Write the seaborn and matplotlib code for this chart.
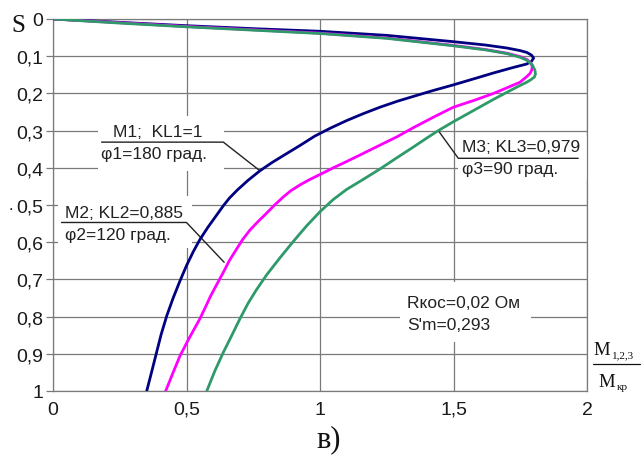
import matplotlib
matplotlib.use("Agg")
import matplotlib.pyplot as plt
import seaborn as sns
import pandas as pd
from matplotlib.patches import Rectangle
from matplotlib.lines import Line2D

# ---- data: torque ratio M/Mkr (x) vs slip S (y) ----
m1_x = [0, 0.25, 0.5, 0.75, 1.0, 1.25, 1.5, 1.62, 1.70, 1.75, 1.775, 1.792, 1.800,
        1.792, 1.774, 1.72, 1.65, 1.58, 1.5, 1.42, 1.35, 1.29, 1.225, 1.16, 1.10,
        1.04, 0.98, 0.925, 0.87, 0.82, 0.775, 0.73, 0.69, 0.66, 0.638, 0.61, 0.58,
        0.55, 0.525, 0.50, 0.475, 0.45, 0.426, 0.405, 0.388, 0.37, 0.351]
m1_s = [0, 0.009, 0.018, 0.026, 0.033, 0.044, 0.061, 0.070, 0.078, 0.085, 0.090, 0.097, 0.105,
        0.114, 0.121, 0.131, 0.145, 0.160, 0.177, 0.193, 0.208, 0.221, 0.237, 0.255, 0.273,
        0.293, 0.315, 0.340, 0.364, 0.386, 0.408, 0.434, 0.460, 0.482, 0.502, 0.530, 0.560,
        0.593, 0.626, 0.663, 0.705, 0.750, 0.798, 0.848, 0.896, 0.947, 1.0]

m2_x = [0, 0.25, 0.5, 0.75, 1.0, 1.25, 1.5, 1.62, 1.70, 1.75, 1.775, 1.788, 1.795,
        1.793, 1.787, 1.774, 1.749, 1.70, 1.65, 1.58, 1.5, 1.43, 1.35, 1.29, 1.225,
        1.16, 1.10, 1.05, 1.0, 0.96, 0.925, 0.89, 0.863, 0.83, 0.80, 0.77, 0.738,
        0.71, 0.688, 0.66, 0.638, 0.61, 0.59, 0.57, 0.55, 0.51, 0.476, 0.45, 0.422]
m2_s = [0, 0.010, 0.020, 0.029, 0.038, 0.051, 0.071, 0.082, 0.092, 0.101, 0.109, 0.117, 0.127,
        0.137, 0.146, 0.155, 0.170, 0.185, 0.200, 0.218, 0.237, 0.262, 0.292, 0.316, 0.339,
        0.362, 0.383, 0.400, 0.418, 0.432, 0.446, 0.462, 0.478, 0.500, 0.522, 0.543, 0.567,
        0.593, 0.618, 0.650, 0.681, 0.718, 0.745, 0.776, 0.806, 0.858, 0.905, 0.950, 1.0]

m3_x = [0, 0.25, 0.5, 0.75, 1.0, 1.25, 1.5, 1.62, 1.70, 1.75, 1.775, 1.795, 1.805,
        1.807, 1.803, 1.79, 1.774, 1.74, 1.70, 1.65, 1.6, 1.55, 1.5, 1.443, 1.40,
        1.35, 1.29, 1.225, 1.16, 1.10, 1.05, 1.0, 0.95, 0.90, 0.85, 0.80, 0.76,
        0.73, 0.70, 0.67, 0.638, 0.605, 0.576]
m3_s = [0, 0.011, 0.021, 0.030, 0.039, 0.052, 0.072, 0.083, 0.093, 0.103, 0.111, 0.123, 0.138,
        0.148, 0.156, 0.163, 0.170, 0.182, 0.197, 0.216, 0.236, 0.256, 0.276, 0.300, 0.320,
        0.344, 0.372, 0.403, 0.432, 0.458, 0.485, 0.518, 0.556, 0.598, 0.642, 0.688, 0.730,
        0.765, 0.806, 0.850, 0.896, 0.948, 1.0]

series_colors = {"M1": "#000080", "M2": "#FF00FF", "M3": "#2E9A6A"}

x_ticks = [0, 0.5, 1, 1.5, 2]
x_tick_labels = ["0", "0,5", "1", "1,5", "2"]
y_ticks = [0, 0.1, 0.2, 0.3, 0.4, 0.5, 0.6, 0.7, 0.8, 0.9, 1.0]
y_tick_labels = ["0", "0,1", "0,2", "0,3", "0,4", "0,5", "0,6", "0,7", "0,8", "0,9", "1"]

# ---- style ----
sns.set_style("white")
plt.rcParams["font.family"] = ["Liberation Sans", "DejaVu Sans"]

fig = plt.figure(figsize=(6.41, 4.56), dpi=100)
ax = fig.add_axes([53 / 641, 1 - 392 / 456, 534 / 641, 372 / 456])

for name, xs, ss in (("M1", m1_x, m1_s), ("M2", m2_x, m2_s), ("M3", m3_x, m3_s)):
    df = pd.DataFrame({"M": xs, "S": ss})
    sns.lineplot(data=df, x="M", y="S", sort=False, estimator=None,
                 color=series_colors[name], lw=2.0, ax=ax, zorder=3)
for ln in ax.get_lines():
    ln.set_solid_joinstyle("round")
    ln.set_solid_capstyle("round")

ax.set_xlim(0, 2)
ax.set_ylim(1, 0)
ax.set_xticks(x_ticks)
ax.set_xticklabels(x_tick_labels)
ax.set_yticks(y_ticks)
ax.set_yticklabels(y_tick_labels)
ax.set_xlabel("")
ax.set_ylabel("")
ax.set_axisbelow(True)
ax.grid(True, color="#7a7a7a", lw=0.9)
for sp in ax.spines.values():
    sp.set_color("#7a7a7a")
    sp.set_linewidth(0.9)
ax.tick_params(axis="y", length=5, width=0.9, color="#7a7a7a", pad=2,
               labelsize=14, direction="out", left=True)
ax.tick_params(axis="x", length=0, pad=7, labelsize=14)
for lab in ax.get_xticklabels() + ax.get_yticklabels():
    lab.set_color("#1a1a1a")

# ---- annotation boxes (white backgrounds hiding gridlines) ----
def white_box(x0, y0, x1, y1):
    ax.add_patch(Rectangle((x0, y0), x1 - x0, y1 - y0, facecolor="white",
                           edgecolor="none", zorder=1))

fs = 12.5
tc = "#222222"
# M1
white_box(0.169, 0.261, 0.640, 0.409)
ax.plot([0.182, 0.638, 0.775], [0.331, 0.331, 0.408], color=tc, lw=1.0, zorder=2)
ax.text(0.394, 0.303, "M1;  KL1=1", fontsize=fs, ha="center", va="center", zorder=4, color=tc)
ax.text(0.379, 0.362, "φ1=180 град.", fontsize=fs, ha="center", va="center", zorder=4, color=tc)
# M2
white_box(0.019, 0.476, 0.521, 0.616)
ax.plot([0.032, 0.500, 0.641], [0.547, 0.547, 0.654], color=tc, lw=1.0, zorder=2)
ax.text(0.045, 0.520, "M2; KL2=0,885", fontsize=fs, ha="left", va="center", zorder=4, color=tc)
ax.text(0.045, 0.578, "φ2=120 град.", fontsize=fs, ha="left", va="center", zorder=4, color=tc)
# M3
white_box(1.517, 0.315, 2.0, 0.43)
ax.plot([1.967, 1.518, 1.443], [0.3745, 0.3745, 0.300], color=tc, lw=1.0, zorder=2)
ax.text(1.531, 0.342, "M3; KL3=0,979", fontsize=fs, ha="left", va="center", zorder=4, color=tc)
ax.text(1.531, 0.403, "φ3=90 град.", fontsize=fs, ha="left", va="center", zorder=4, color=tc)
# parameters
white_box(1.30, 0.707, 1.79, 0.868)
ax.text(1.325, 0.762, "Rкос=0,02 Ом", fontsize=fs, ha="left", va="center", zorder=4, color=tc)
ax.text(1.325, 0.821, "S'm=0,293", fontsize=fs, ha="left", va="center", zorder=4, color=tc)

# ---- figure texts ----
serif = ["Liberation Serif", "DejaVu Serif"]
fig.text(18 / 641, 1 - 26 / 456, "S", fontsize=18, family=serif,
         ha="center", va="center", color="#111111")
fig.text(11 / 641, 1 - 206 / 456, ".", fontsize=12, ha="center", va="center", color="#111111")
# fraction label M_{1,2,3} / M_kr
fig.text(593 / 641, 1 - 355 / 456, "M", fontsize=13.5, family=serif,
         ha="left", va="baseline", color="#111111")
fig.text(612 / 641, 1 - 358 / 456, "1,2,3", fontsize=8, family=serif,
         ha="left", va="baseline", color="#111111")
fig.add_artist(Line2D([593 / 641, 640 / 641], [1 - 365 / 456, 1 - 365 / 456],
                      color="#111111", lw=0.9))
fig.text(598 / 641, 1 - 387 / 456, "M", fontsize=13.5, family=serif,
         ha="left", va="baseline", color="#111111")
fig.text(617 / 641, 1 - 390 / 456, "кр", fontsize=8, family=serif,
         ha="left", va="baseline", color="#111111")
fig.text(329 / 641, 1 - 440 / 456, "в)", fontsize=22, family=serif,
         ha="center", va="center", color="#111111")

fig.savefig("out.png", dpi=100)
